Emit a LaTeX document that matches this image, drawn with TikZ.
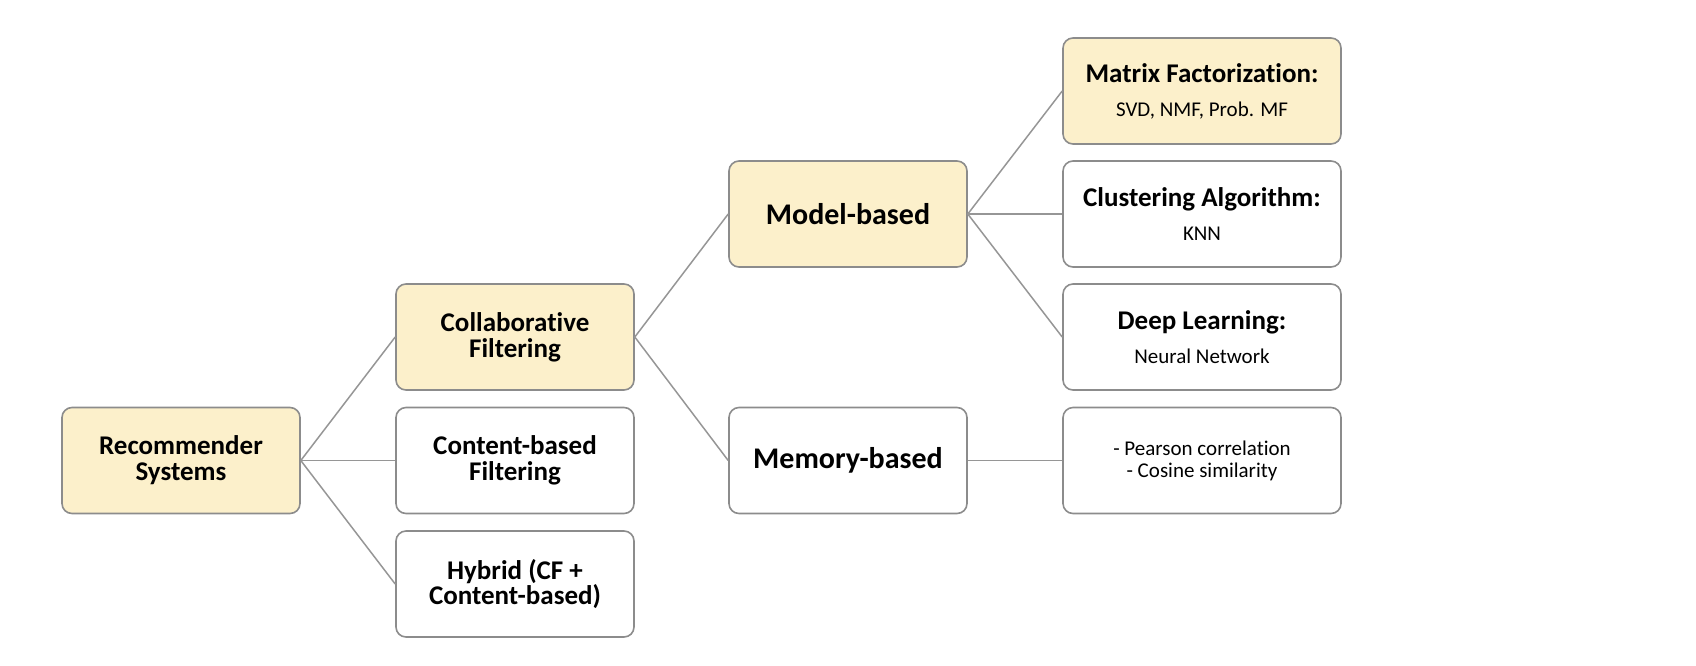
\documentclass[tikz,border=0pt]{standalone}
\usepackage{fontspec}
\setmainfont{Carlito}[Ligatures=NoCommon]
\definecolor{boxfill}{HTML}{FCF0CB}
\definecolor{boxline}{HTML}{8C8C8C}
\definecolor{linkline}{HTML}{969696}
\newcommand{\subfnt}{\fontsize{10.5}{11}\selectfont\mdseries}
\begin{document}
\begin{tikzpicture}[x=0.5pt,y=-0.5pt,
  box/.style={draw=boxline, line width=0.8pt, rounded corners=5pt, fill=white,
    minimum width=119pt, minimum height=53pt, align=center, inner sep=2pt,
    font=\fontsize{13.5}{12.9}\selectfont\bfseries},
  hl/.style={fill=boxfill},
  wide/.style={minimum width=139pt},
  big/.style={font=\fontsize{15}{15}\selectfont\bfseries},
  link/.style={draw=linkline, line width=0.75pt}]
\useasboundingbox (0,0) rectangle (1696,665);
\node[box,hl] (rs) at (181,460.5) {Recommender\\Systems};
\node[box,hl] (cf) at (515,337) {Collaborative\\Filtering};
\node[box] (cb) at (515,460.5) {Content-based\\Filtering};
\node[box] (hy) at (515,584) {Hybrid (CF +\\Content-based)};
\node[box,hl,big] (mb) at (848,214) {Model-based};
\node[box,big] (mem) at (848,460.5) {Memory-based};
\node[box,hl,wide] (mf) at (1202,91) {Matrix Factorization:\\[4pt]{\subfnt SVD, NMF, Prob. MF}};
\node[box,wide] (cl) at (1202,214) {Clustering Algorithm:\\[4pt]{\subfnt KNN}};
\node[box,wide] (dl) at (1202,337) {Deep Learning:\\[4pt]{\subfnt Neural Network}};
\node[box,wide,font=\subfnt] (pc) at (1202,460.5) {- Pearson correlation\\- Cosine similarity};
\draw[link] (rs.east) -- (cf.west);
\draw[link] (rs.east) -- (cb.west);
\draw[link] (rs.east) -- (hy.west);
\draw[link] (cf.east) -- (mb.west);
\draw[link] (cf.east) -- (mem.west);
\draw[link] (mb.east) -- (mf.west);
\draw[link] (mb.east) -- (cl.west);
\draw[link] (mb.east) -- (dl.west);
\draw[link] (mem.east) -- (pc.west);
\end{tikzpicture}
\end{document}
